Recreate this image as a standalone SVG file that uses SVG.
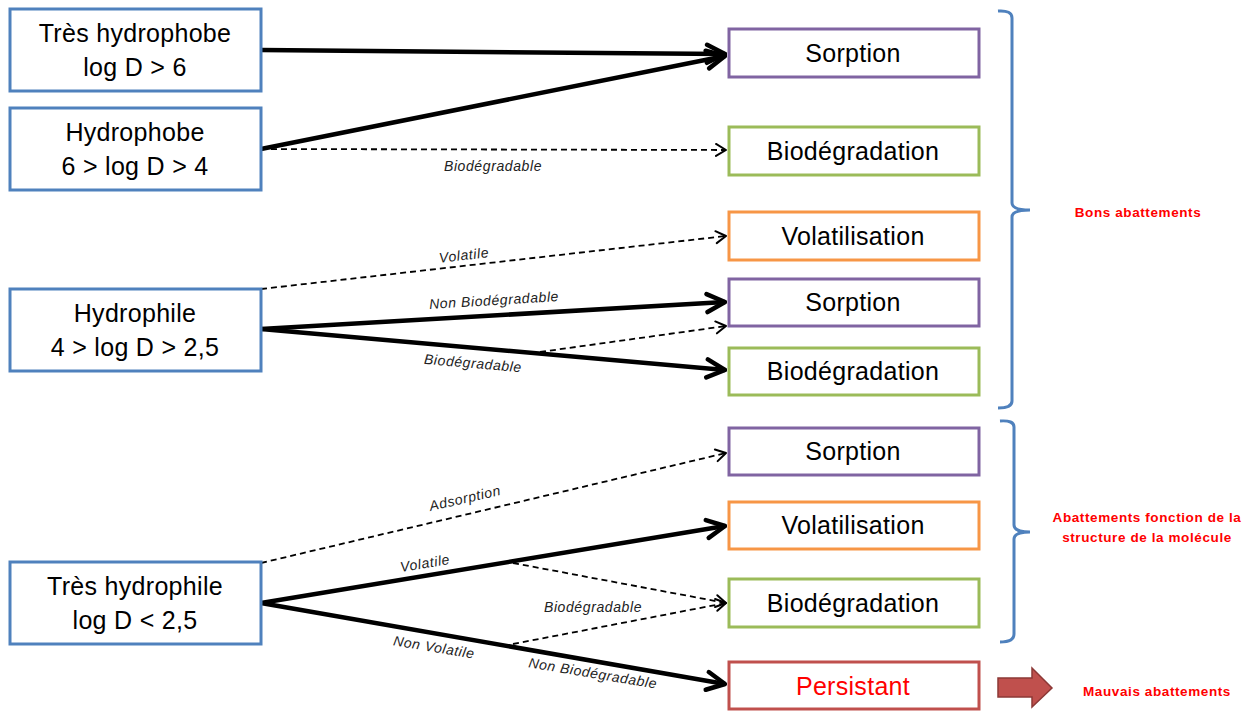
<svg xmlns="http://www.w3.org/2000/svg" width="1258" height="711" viewBox="0 0 1258 711">
<style>
.box{fill:#fff;stroke-width:3}
.l{stroke:#4F81BD}
.p{stroke:#8064A2}
.g{stroke:#9BBB59}
.o{stroke:#F79646}
.r{stroke:#C0504D}
.t{font-family:"Liberation Sans",Arial,sans-serif;font-size:25px;fill:#000;text-anchor:middle;letter-spacing:0.3px}
.s{font-family:"Liberation Sans",Arial,sans-serif;font-size:14px;font-style:italic;fill:#222;text-anchor:middle;letter-spacing:0.6px}
.red{font-family:"Liberation Sans",Arial,sans-serif;font-size:13.5px;font-weight:bold;fill:#FF0000;text-anchor:middle;letter-spacing:0.6px}
.thick{stroke:#000;stroke-width:4.5;fill:none;marker-end:url(#ah)}
.dash{stroke:#000;stroke-width:1.8;fill:none;stroke-dasharray:6 4;marker-end:url(#as)}
.br{stroke:#4F81BD;stroke-width:3;fill:none}
</style>
<defs>
<marker id="ah" markerUnits="userSpaceOnUse" markerWidth="24" markerHeight="24" viewBox="-22 -12 24 24" refX="0" refY="0" orient="auto">
<path d="M-18,-9 L0,0 L-18,9" fill="none" stroke="#000" stroke-width="4.5" stroke-linecap="round" stroke-linejoin="round"/>
</marker>
<marker id="as" markerUnits="userSpaceOnUse" markerWidth="16" markerHeight="16" viewBox="-14 -8 16 16" refX="0" refY="0" orient="auto">
<path d="M-10,-6 L0,0 L-10,6" fill="none" stroke="#000" stroke-width="2" stroke-linecap="round" stroke-linejoin="round"/>
</marker>
</defs>

<g id="connectors">
<line class="thick" x1="261" y1="50" x2="725" y2="54"/>
<line class="thick" x1="261" y1="149" x2="725" y2="56"/>
<line class="dash" x1="261" y1="149" x2="726" y2="150"/>
<line class="dash" x1="261" y1="289" x2="726" y2="236"/>
<line class="thick" x1="261" y1="329" x2="725" y2="302"/>
<line class="thick" x1="261" y1="329" x2="725" y2="370"/>
<line class="dash" x1="540" y1="352" x2="726" y2="326"/>
<line class="dash" x1="261" y1="563" x2="726" y2="453"/>
<line class="thick" x1="261" y1="603" x2="725" y2="526"/>
<line class="dash" x1="513" y1="563" x2="726" y2="603"/>
<line class="thick" x1="261" y1="603" x2="725" y2="684"/>
<line class="dash" x1="513" y1="644" x2="726" y2="603"/>
<text class="s" x="493" y="171">Biodégradable</text>
<text class="s" x="464" y="260" transform="rotate(-6.5 464 255)">Volatile</text>
<text class="s" x="494" y="305" transform="rotate(-3.5 494 300)">Non Biodégradable</text>
<text class="s" x="473" y="368" transform="rotate(5 473 363)">Biodégradable</text>
<text class="s" x="465" y="503" transform="rotate(-13 465 498)">Adsorption</text>
<text class="s" x="425" y="568" transform="rotate(-9.5 425 563)">Volatile</text>
<text class="s" x="593" y="612">Biodégradable</text>
<text class="s" x="434" y="652" transform="rotate(9.5 434 647)">Non Volatile</text>
<text class="s" x="593" y="678" transform="rotate(9.5 593 673)">Non Biodégradable</text>
</g>

<g id="n-tres-hydrophobe"><rect class="box l" x="10" y="9" width="251" height="82"/><text class="t" x="135" y="42">Très hydrophobe</text><text class="t" x="135" y="76">log D &gt; 6</text></g>
<g id="n-hydrophobe"><rect class="box l" x="10" y="108" width="251" height="82"/><text class="t" x="135" y="141">Hydrophobe</text><text class="t" x="135" y="175">6 &gt; log D &gt; 4</text></g>
<g id="n-hydrophile"><rect class="box l" x="10" y="289" width="251" height="82"/><text class="t" x="135" y="322">Hydrophile</text><text class="t" x="135" y="356">4 &gt; log D &gt; 2,5</text></g>
<g id="n-tres-hydrophile"><rect class="box l" x="10" y="562" width="251" height="82"/><text class="t" x="135" y="595">Très hydrophile</text><text class="t" x="135" y="629">log D &lt; 2,5</text></g>

<g id="n-sorption1"><rect class="box p" x="729" y="29" width="250" height="48"/><text class="t" x="853" y="62">Sorption</text></g>
<g id="n-biodeg1"><rect class="box g" x="729" y="127" width="250" height="48"/><text class="t" x="853" y="160">Biodégradation</text></g>
<g id="n-volat1"><rect class="box o" x="729" y="212" width="250" height="48"/><text class="t" x="853" y="245">Volatilisation</text></g>
<g id="n-sorption2"><rect class="box p" x="729" y="279" width="250" height="47"/><text class="t" x="853" y="311">Sorption</text></g>
<g id="n-biodeg2"><rect class="box g" x="729" y="348" width="250" height="47"/><text class="t" x="853" y="380">Biodégradation</text></g>
<g id="n-sorption3"><rect class="box p" x="729" y="428" width="250" height="47"/><text class="t" x="853" y="460">Sorption</text></g>
<g id="n-volat2"><rect class="box o" x="729" y="502" width="250" height="47"/><text class="t" x="853" y="534">Volatilisation</text></g>
<g id="n-biodeg3"><rect class="box g" x="729" y="579" width="250" height="48"/><text class="t" x="853" y="612">Biodégradation</text></g>
<g id="n-persistant"><rect class="box r" x="729" y="662" width="250" height="47"/><text class="t" x="853" y="695" style="fill:#FF0000">Persistant</text></g>

<g id="bracket-bons">
<path class="br" d="M998,11 Q1012,10 1012,18 L1012,203 Q1012,210 1030,210 Q1012,210 1012,217 L1012,401 Q1012,408 998,408"/>
<text class="red" x="1138" y="217">Bons abattements</text>
</g>
<g id="bracket-fonction">
<path class="br" d="M1000,421 Q1014,420 1014,427 L1014,525 Q1014,532 1030,532 Q1014,532 1014,539 L1014,634 Q1014,642 1000,642"/>
<text class="red" x="1147" y="522">Abattements fonction  de la</text>
<text class="red" x="1147" y="542">structure de la molécule</text>
</g>
<g id="mauvais">
<path d="M998,678 L1032,678 L1032,668 L1052,688 L1032,707 L1032,697 L998,697 Z" fill="#C0504D" stroke="#8C3836" stroke-width="1.5"/>
<text class="red" x="1157" y="696">Mauvais  abattements</text>
</g>
</svg>
